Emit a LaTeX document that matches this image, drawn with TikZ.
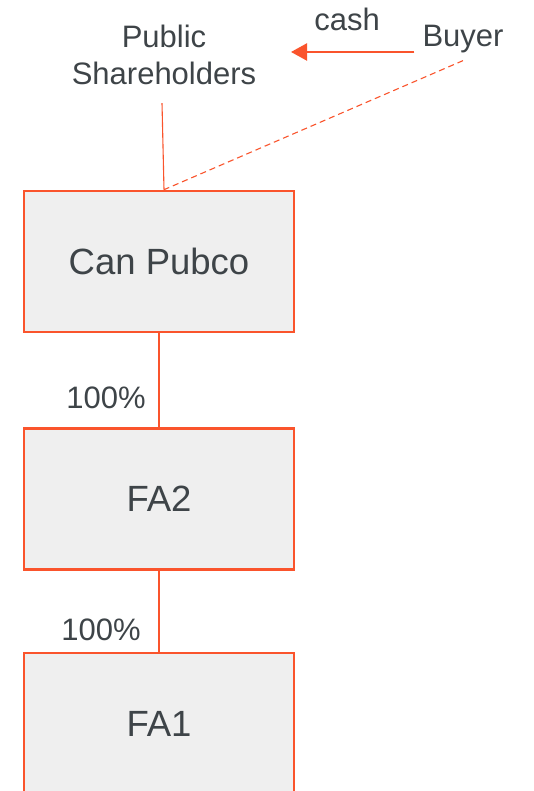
\documentclass[tikz,border=0pt]{standalone}
\usepackage{fontspec}
\setmainfont{Liberation Sans}
\usetikzlibrary{arrows.meta}
\definecolor{edge}{RGB}{250,84,44}
\definecolor{boxfill}{RGB}{239,239,239}
\definecolor{ink}{RGB}{62,68,72}

\begin{document}
\begin{tikzpicture}[x=1pt,y=1pt,
  entity/.style={draw=edge, line width=2.6pt, fill=boxfill, minimum width=270pt,
    minimum height=141pt, inner sep=0pt, text=ink, font=\fontsize{36.5}{43}\selectfont},
  lbl/.style={text=ink, font=\fontsize{31}{37}\selectfont, inner sep=0pt},
  link/.style={draw=edge, line width=1.1pt},
  flow/.style={draw=edge, line width=2.2pt, -{Triangle[length=16pt,width=17pt]}}]
\useasboundingbox (0,0) rectangle (533,791);
\fill[white] (0,0) rectangle (533,791);

% ownership chain
\node[entity] (pubco) at (159,529.5) {Can Pubco};
\node[entity] (fa2) at (159,292) {FA2};
\node[entity] (fa1) at (159,67.5) {FA1};

% parties above the chain
\node[lbl, align=center] (ps) at (164,736) {Public\\Shareholders};
\node[lbl, anchor=base] (buyer) at (463,744) {Buyer};
\node[lbl, anchor=base] (cash) at (347,760) {cash};

% ownership percentages
\node[lbl, anchor=base] (p1) at (106,382) {100\%};
\node[lbl, anchor=base] (p2) at (101,150) {100\%};

% connectors
\coordinate (pubtop) at ([xshift=5pt]pubco.north);
\coordinate (cashtip) at (291,739);
\draw[link] ([xshift=-2pt,yshift=-18pt]ps.south) -- (pubtop);
\draw[link, dash pattern=on 6pt off 4pt] ([yshift=-7pt]buyer.south) -- (pubtop);
\draw[flow] ([xshift=-8pt]buyer.west |- cashtip) -- (cashtip);
\draw[link] (pubco.south) -- (fa2.north);
\draw[link] (fa2.south) -- (fa1.north);
\end{tikzpicture}
\end{document}
